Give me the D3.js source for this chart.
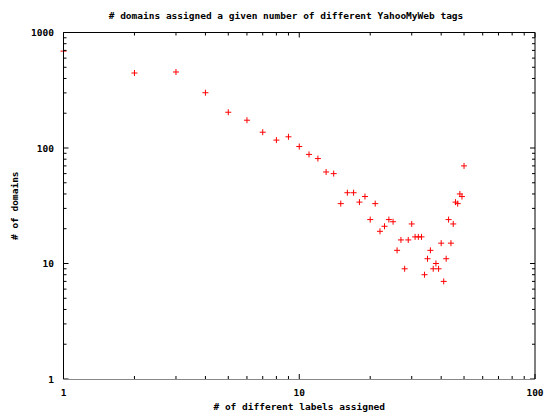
<!DOCTYPE html>
<html>
<head>
<meta charset="utf-8">
<script src="https://cdn.jsdelivr.net/npm/d3@7"></script>
<style>
	body { margin: 0; background: #fff; }
	text { font-family: "DejaVu Sans Mono", monospace; font-weight: bold; font-size: 9.5px; fill: #000; }
</style>
</head>
<body>
<svg id="chart" width="545" height="417"></svg>
<script>
var labels = [1, 2, 3, 4, 5, 6, 7, 8, 9, 10, 11, 12, 13, 14, 15, 16, 17, 18, 19, 20,
	21, 22, 23, 24, 25, 26, 27, 28, 29, 30, 31, 32, 33, 34, 35, 36, 37, 38, 39, 40,
	41, 42, 43, 44, 45, 46, 47, 48, 49, 50]; //# de labels diferentes
var domains = [690, 446, 455, 301, 204, 174, 137, 117, 125, 103, 88, 81, 62, 60, 33, 41, 41, 34, 38, 24,
	33, 19, 21, 24, 23, 13, 16, 9, 16, 22, 17, 17, 17, 8, 11, 13, 9, 10, 9, 15,
	7, 11, 24, 15, 22, 34, 33, 40, 38, 70]; //# de dominios
var xTicks = [1, 10, 100];
var yTicks = [1, 10, 100, 1000];

var title = "# domains assigned a given number of different YahooMyWeb tags";
var xTitle = "# of different labels assigned";
var yTitle = "# of domains";

// "top" e global do window, entao uso outros nomes
var pL = 63.5, pR = 535, pT = 32.5, pB = 379;
var svg = d3.select("#chart");

var x = d3.scaleLog().domain([1, 100]).range([pL, pR]);
var y = d3.scaleLog().domain([1, 1000]).range([pB, pT]);

// minor ticks 2..9 em cada decada
function minors(dom) {
	var t = [];
	for (var d = dom[0]; d < dom[1]; d *= 10)
		for (var k = 2; k <= 9; k++) t.push(d * k);
	return t;
}

// pontos "+" (antes da borda, o eixo cobre o ponto em x=1)
var pts = svg.append("g").attr("stroke", "#ff0000").attr("stroke-width", 1);
labels.forEach(function(d, i) {
	var px = x(d), py = y(domains[i]);
	pts.append("line").attr("x1", px - 3).attr("x2", px + 3).attr("y1", py).attr("y2", py);
	pts.append("line").attr("x1", px).attr("x2", px).attr("y1", py - 3).attr("y2", py + 3);
});

var g = svg.append("g");
function line(x1, y1, x2, y2, c) {
	g.append("line").attr("x1", x1).attr("y1", y1).attr("x2", x2).attr("y2", y2)
		.attr("stroke", c || "#000").attr("stroke-width", 1);
}

xTicks.forEach(function(v){ line(x(v), pB, x(v), pB - 5); line(x(v), pT, x(v), pT + 5); });
minors(x.domain()).forEach(function(v){ line(x(v), pB, x(v), pB - 3); line(x(v), pT, x(v), pT + 3); });
yTicks.forEach(function(v){ line(pL, y(v), pL + 5, y(v)); line(pR, y(v), pR - 5, y(v)); });
minors(y.domain()).forEach(function(v){ line(pL, y(v), pL + 3, y(v)); line(pR, y(v), pR - 3, y(v)); });

// borda (a de baixo sai cinza no original)
line(pL, pT, pR, pT);
line(pL, pT, pL, pB);
line(pR, pT, pR, pB);
line(pL, pB + 0.5, pR, pB + 0.5, "#888");

// labels dos ticks
svg.selectAll(".xl").data(xTicks).enter().append("text")
	.attr("x", function(d){ return x(d); }).attr("y", 396)
	.attr("text-anchor", "middle").text(function(d){ return d; });
svg.selectAll(".yl").data(yTicks).enter().append("text")
	.attr("x", 54).attr("y", function(d){ return y(d) + 3.5; })
	.attr("text-anchor", "end").text(function(d){ return d; });

svg.append("text").attr("x", 286).attr("y", 19).attr("text-anchor", "middle").text(title);
svg.append("text").attr("x", (pL + pR) / 2).attr("y", 410).attr("text-anchor", "middle").text(xTitle);
svg.append("text").attr("transform", "translate(18," + ((pT + pB) / 2) + ") rotate(-90)")
	.attr("text-anchor", "middle").text(yTitle);
</script>
</body>
</html>
